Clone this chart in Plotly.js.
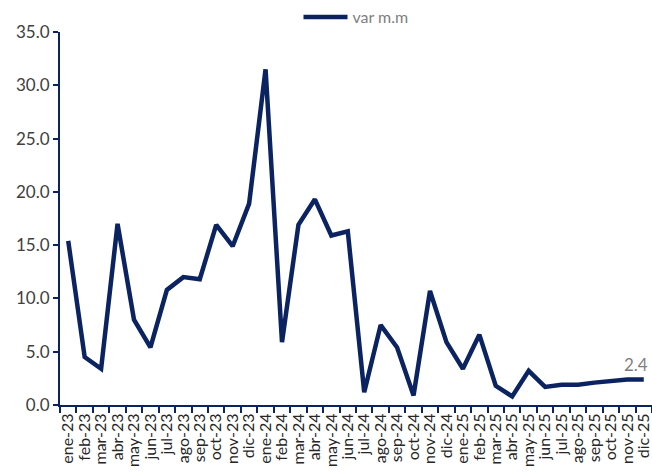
<!DOCTYPE html>
<html><head><meta charset="utf-8">
<script src="https://cdn.plot.ly/plotly-3.0.1.min.js"></script>
<style>body{margin:0;padding:0;background:#fff}#chart{width:652px;height:472px}</style>
</head><body><div id="chart"></div>
<script>
const months = ["ene-23","feb-23","mar-23","abr-23","may-23","jun-23","jul-23","ago-23","sep-23","oct-23","nov-23","dic-23",
"ene-24","feb-24","mar-24","abr-24","may-24","jun-24","jul-24","ago-24","sep-24","oct-24","nov-24","dic-24",
"ene-25","feb-25","mar-25","abr-25","may-25","jun-25","jul-25","ago-25","sep-25","oct-25","nov-25","dic-25"];
const varMM = [15.4,4.5,3.4,17.0,8.0,5.4,10.8,12.0,11.8,16.9,14.9,18.9,
31.5,5.9,16.9,19.3,15.9,16.3,1.2,7.5,5.4,0.9,10.7,5.9,
3.4,6.6,1.8,0.8,3.2,1.7,1.9,1.9,2.1,2.3,2.4,2.4];
const seriesName = "var m.m";
const yTicks = [0,5,10,15,20,25,30,35];
const yTickText = yTicks.map(v => v.toFixed(1));
const navy = "#0b2361";
const lastIdx = months.length - 1;

Plotly.newPlot("chart", [{
  x: months, y: varMM, type: "scatter", mode: "lines", name: seriesName,
  line: {color: navy, width: 4.5}
}], {
  width: 652, height: 472,
  margin: {l: 60, r: 0, t: 32, b: 67, autoexpand: false},
  paper_bgcolor: "#fff", plot_bgcolor: "#fff",
  font: {family: "Lato, 'Liberation Sans', sans-serif", color: "#404040"},
  showlegend: true,
  legend: {orientation: "h", x: 0.5, xanchor: "center", y: 1.04, yanchor: "middle",
           itemwidth: 44, font: {size: 16, color: "#7f7f7f"}},
  xaxis: {type: "category", tickangle: -90, tickfont: {size: 16, color: "#262626"},
          tickmode: "array", tickvals: months, ticktext: months,
          showgrid: false, showline: true, linecolor: navy, linewidth: 2,
          ticks: "outside", ticklen: 6, tickcolor: navy, tickwidth: 2, tickson: "boundaries",
          range: [-0.5, 35.5], fixedrange: true},
  yaxis: {range: [0, 35], tickvals: yTicks, ticktext: yTickText, tickfont: {size: 17, color: "#404040"},
          showgrid: false, zeroline: false, showline: true, linecolor: navy, linewidth: 2,
          ticks: "outside", ticklen: 5, tickcolor: navy, tickwidth: 2, fixedrange: true},
  annotations: [{x: months[lastIdx], y: varMM[lastIdx], text: varMM[lastIdx].toFixed(1),
                 showarrow: false, yshift: 15, xshift: -8, font: {size: 17, color: "#7f7f7f"}}]
}, {displayModeBar: false, staticPlot: true});
</script></body></html>
